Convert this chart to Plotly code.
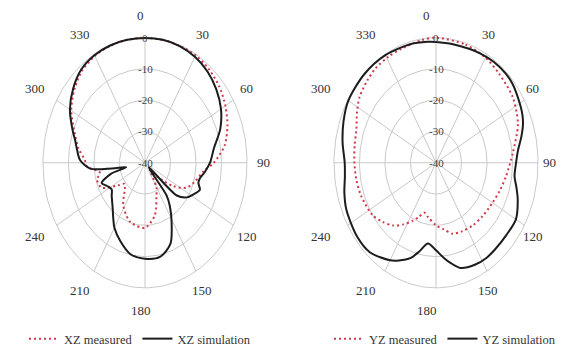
import numpy as np
import plotly.graph_objects as go

# ---------------- data (angle in degrees, clockwise from top; gain in dB) ----------------
xz_meas_ang = [0, 10, 20, 30, 40, 50, 60, 70, 80, 90, 97, 107, 116, 124, 133, 140, 150, 157, 167,
               180, 197, 212, 223, 230, 236, 245, 254, 260, 267, 272, 280, 290, 300, 310, 320, 330, 340, 350]
xz_meas_db = [-0.1, -0.1, -0.2, -0.3, -1.0, -2.0, -3.6, -5.6, -8.3, -13.0, -17.0, -19.5, -21.8, -26.6, -33.7, -37.0,
              -31.0, -28.5, -22.8, -19.2, -20.2, -23.9, -28.4, -29.5, -27.0, -21.2, -20.4, -22.0, -17.1, -16.4,
              -13.5, -10.5, -6.6, -3.8, -1.6, -0.6, -0.2, -0.1]

xz_sim_ang = [0, 10, 20, 30, 40, 50, 60, 70, 80, 90, 97, 103, 107, 112, 118, 124, 130, 135, 141, 145,
              151, 159, 169, 180, 191, 201, 210, 215, 222, 231, 237, 244, 249, 255, 259, 262, 265, 272,
              280, 285, 290, 300, 310, 320, 330, 340, 350]
xz_sim_db = [-0.1, -0.1, -0.3, -0.9, -1.9, -3.5, -5.6, -8.6, -12.5, -14.5, -16.3, -17.9, -18.1, -16.8, -18.5,
             -20.2, -23.7, -38.0, -26.5, -23.0, -18.5, -12.2, -9.3, -9.3, -10.2, -13.1, -16.0, -18.3, -21.0,
             -23.2, -24.4, -23.2, -21.8, -26.0, -32.5, -27.0, -18.4, -14.5, -12.8, -11.6, -9.8, -6.0, -3.2,
             -1.1, -0.3, -0.1, -0.1]

yz_meas_ang = [0, 17, 30, 41, 55, 69, 84, 99, 110, 120, 133, 144, 155, 164, 172, 180, 190, 196, 201, 206,
               213, 220, 228, 236, 250, 260, 270, 280, 289, 297, 305, 314, 322, 331, 340, 352]
yz_meas_db = [0.0, -0.5, -1.2, -2.3, -3.3, -5.6, -9.7, -12.2, -13.5, -14.4, -15.0, -15.3, -15.8, -16.4, -18.5,
              -20.0, -22.3, -23.4, -21.5, -19.4, -16.5, -13.8, -11.8, -10.0, -8.8, -8.3, -8.0, -7.6, -7.0,
              -5.2, -3.4, -2.4, -1.6, -1.3, -1.1, -0.4]

yz_sim_ang = [0, 10, 20, 26, 35, 44, 50, 57, 65, 70, 76, 83, 90, 98, 104, 110, 120, 130, 140, 147, 155,
              164, 170, 174, 180, 187, 193, 198, 205, 210, 222, 233, 247, 255, 263, 270, 280, 290, 300,
              315, 330, 345, 355]
yz_sim_db = [-1.4, -1.5, -1.3, -1.0, -0.6, -0.5, -0.8, -1.7, -2.7, -3.7, -5.5, -7.6, -8.6, -8.9, -7.5, -5.9,
             -3.8, -4.0, -3.9, -3.7, -4.0, -5.0, -7.5, -9.3, -12.0, -14.0, -10.9, -8.0, -5.5, -4.0, -1.4,
             -1.1, -1.8, -2.8, -4.0, -4.2, -2.8, -1.4, -0.3, -0.1, -0.3, -0.8, -1.2]

angle_ticks = [0, 30, 60, 90, 120, 150, 180, 210, 240, 270, 300, 330]
radial_ticks = [0, -10, -20, -30, -40]
DB_MIN, DB_MAX = -40, 0

series = [
    # (name, angles, values, subplot index, style)
    ("XZ measured", xz_meas_ang, xz_meas_db, 1, "meas"),
    ("XZ simulation", xz_sim_ang, xz_sim_db, 1, "sim"),
    ("YZ measured", yz_meas_ang, yz_meas_db, 2, "meas"),
    ("YZ simulation", yz_sim_ang, yz_sim_db, 2, "sim"),
]

# ---------------- helpers ----------------
def to_xy(ang, db):
    a = np.radians(np.asarray(ang, float))
    r = (np.asarray(db, float) - DB_MIN) / (DB_MAX - DB_MIN)
    return r * np.sin(a), r * np.cos(a)

GRID = "#c9c9c9"
RED = "#d0384a"
BLACK = "#1c1c1c"
FONT = "Liberation Serif, Times New Roman, Times, serif"

fig = go.Figure()

for k in (1, 2):
    xa = "x" if k == 1 else "x2"
    ya = "y" if k == 1 else "y2"
    circ = np.linspace(0, 360, 181)
    for rv in radial_ticks[:-1]:
        cx, cy = to_xy(circ, np.full_like(circ, rv, dtype=float))
        fig.add_trace(go.Scatter(x=cx, y=cy, mode="lines", line=dict(color=GRID, width=1),
                                 hoverinfo="skip", showlegend=False, xaxis=xa, yaxis=ya))
    for t in angle_ticks:
        sx, sy = to_xy([t, t], [DB_MIN, DB_MAX])
        fig.add_trace(go.Scatter(x=sx, y=sy, mode="lines", line=dict(color=GRID, width=1),
                                 hoverinfo="skip", showlegend=False, xaxis=xa, yaxis=ya))

for name, ang, db, k, style in series:
    xa = "x" if k == 1 else "x2"
    ya = "y" if k == 1 else "y2"
    a = list(ang) + [ang[0] + 360]
    d = list(db) + [db[0]]
    px, py = to_xy(a, d)
    if style == "meas":
        line = dict(color=RED, width=2, dash="2px,3px", shape="spline", smoothing=0.8)
    else:
        line = dict(color=BLACK, width=2, shape="spline", smoothing=0.8)
    fig.add_trace(go.Scatter(x=px, y=py, mode="lines", name=name, line=line,
                             hoverinfo="skip", xaxis=xa, yaxis=ya,
                             legend="legend" if k == 1 else "legend2"))

LABEL_RX, LABEL_RY = 1.2, 1.18
LABEL_SHIFT = {1: -0.04, 2: -0.09}
annotations = []
for k in (1, 2):
    xr = "x" if k == 1 else "x2"
    yr = "y" if k == 1 else "y2"
    for t in angle_ticks:
        lx, ly = to_xy([t], [DB_MAX])
        annotations.append(dict(x=float(lx[0]) * LABEL_RX + LABEL_SHIFT[k], y=float(ly[0]) * LABEL_RY,
                                xref=xr, yref=yr, text=str(t), showarrow=False,
                                font=dict(family=FONT, size=13, color="#333333")))
    for rv in radial_ticks:
        rx, ry = to_xy([0], [rv])
        annotations.append(dict(x=float(rx[0]), y=float(ry[0]), xref=xr, yref=yr,
                                text=str(rv), showarrow=False,
                                font=dict(family=FONT, size=11, color="#444444")))

W, H = 563, 354
rng = 1.2
def xdom(cx, rx):
    return [(cx - rng * rx) / W, (cx + rng * rx) / W]
def ydom(cy, ry):
    return [(H - (cy + rng * ry)) / H, (H - (cy - rng * ry)) / H]

ax_common = dict(visible=False, range=[-rng, rng], fixedrange=True)
leg_common = dict(orientation="h", y=(H - 347) / H, yanchor="middle", xanchor="center",
                  font=dict(family=FONT, size=12.5, color="#333333"), bgcolor="rgba(0,0,0,0)",
                  itemwidth=30, tracegroupgap=0)
fig.update_layout(
    width=W, height=H,
    margin=dict(l=0, r=0, t=0, b=0),
    paper_bgcolor="white", plot_bgcolor="white",
    xaxis=dict(ax_common, domain=xdom(145, 102)),
    yaxis=dict(ax_common, domain=ydom(166.5, 128)),
    xaxis2=dict(ax_common, domain=xdom(436, 102)),
    yaxis2=dict(ax_common, domain=ydom(166.5, 128)),
    annotations=annotations,
    legend=dict(leg_common, x=140 / W),
    legend2=dict(leg_common, x=445 / W),
    hovermode=False,
)

fig.write_html("out.html", config={"displayModeBar": False, "staticPlot": True},
               post_script="document.body.style.margin='0';document.body.style.overflow='hidden';")
